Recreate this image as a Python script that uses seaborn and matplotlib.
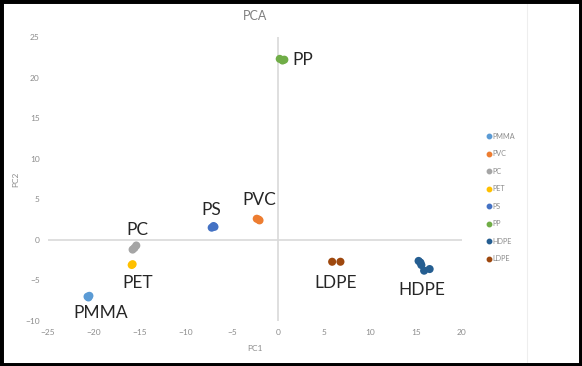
import seaborn as sns
import matplotlib.pyplot as plt
import pandas as pd
from matplotlib.patches import Rectangle
from matplotlib.lines import Line2D

# data
polymers = ['PMMA', 'PVC', 'PC', 'PET', 'PS', 'PP', 'HDPE', 'LDPE']
pmma_x = [-20.7, -20.5, -20.6]
pmma_y = [-7.0, -6.9, -7.1]
pvc_x = [-2.3, -2.0, -2.1]
pvc_y = [2.6, 2.4, 2.5]
pc_x = [-15.8, -15.6, -15.4]
pc_y = [-1.2, -1.0, -0.7]
pet_x = [-15.9, -15.8]
pet_y = [-3.1, -3.0]
ps_x = [-7.2, -7.0, -6.9]
ps_y = [1.5, 1.7, 1.6]
pp_x = [0.2, 0.5, 0.7]
pp_y = [22.3, 22.1, 22.2]
hdpe_x = [15.3, 15.6, 15.9, 16.5, 15.5]
hdpe_y = [-2.6, -3.1, -3.8, -3.6, -2.8]
ldpe_x = [5.9, 6.8]
ldpe_y = [-2.7, -2.7]

colors = ['#5B9BD5', '#ED7D31', '#A5A5A5', '#FFC000', '#4472C4', '#70AD47', '#255E91', '#9E480E']

# label positions for each group
label_x = [-19.3, -2.0, -15.3, -15.3, -7.3, 2.7, 15.6, 6.3]
label_y = [-9.0, 4.9, 1.2, -5.3, 3.7, 22.2, -6.2, -5.3]

xs = [pmma_x, pvc_x, pc_x, pet_x, ps_x, pp_x, hdpe_x, ldpe_x]
ys = [pmma_y, pvc_y, pc_y, pet_y, ps_y, pp_y, hdpe_y, ldpe_y]
rows = []
for name, xv, yv in zip(polymers, xs, ys):
    for a, b in zip(xv, yv):
        rows.append({'PC1': a, 'PC2': b, 'polymer': name})
df = pd.DataFrame(rows)

sns.set_style('white')
plt.rcParams['font.family'] = ['Lato', 'DejaVu Sans']

fig = plt.figure(figsize=(5.82, 3.66), dpi=100)
ax = fig.add_axes([0.0825, 0.123, 0.711, 0.776])

sns.scatterplot(data=df, x='PC1', y='PC2', hue='polymer', hue_order=polymers,
                palette=dict(zip(polymers, colors)), s=34, edgecolor='none',
                legend=False, ax=ax)

ax.set_xlim(-25, 20)
ax.set_ylim(-10, 25)
ax.set_xticks(range(-25, 21, 5))
ax.set_yticks(range(-10, 26, 5))
for s in ax.spines.values():
    s.set_visible(False)
ax.axhline(0, color='#D9D9D9', lw=1.2, zorder=0)
ax.axvline(0, color='#D9D9D9', lw=1.2, zorder=0)
ax.tick_params(axis='both', length=0, labelsize=6, labelcolor='#8C8C8C', pad=6)

ax.set_xlabel('PC1', fontsize=6, color='#8C8C8C', labelpad=6)
ax.set_ylabel('PC2', fontsize=6, color='#8C8C8C', labelpad=4)
ax.set_title('PCA', fontsize=9, color='#7F7F7F', pad=12)

for name, lx, ly in zip(polymers, label_x, label_y):
    ax.text(lx, ly, name, fontsize=12.5, color='#262626', ha='center', va='center')

handles = [Line2D([], [], marker='o', ls='', color=c, markersize=3.2) for c in colors]
fig.legend(handles, polymers, loc='upper left', bbox_to_anchor=(0.822, 0.655),
           frameon=False, fontsize=5.2, labelcolor='#8C8C8C', handletextpad=0.1,
           labelspacing=1.45, handlelength=1.0)

# chart frame and right edge of chart area
fig.add_artist(Rectangle((0, 0), 1, 1, transform=fig.transFigure, fill=False,
                         edgecolor='black', lw=5))
fig.add_artist(Line2D([0.905, 0.905], [0.01, 0.99], transform=fig.transFigure,
                      color='#EEEEEE', lw=0.8))

fig.savefig('out.png', dpi=100)
